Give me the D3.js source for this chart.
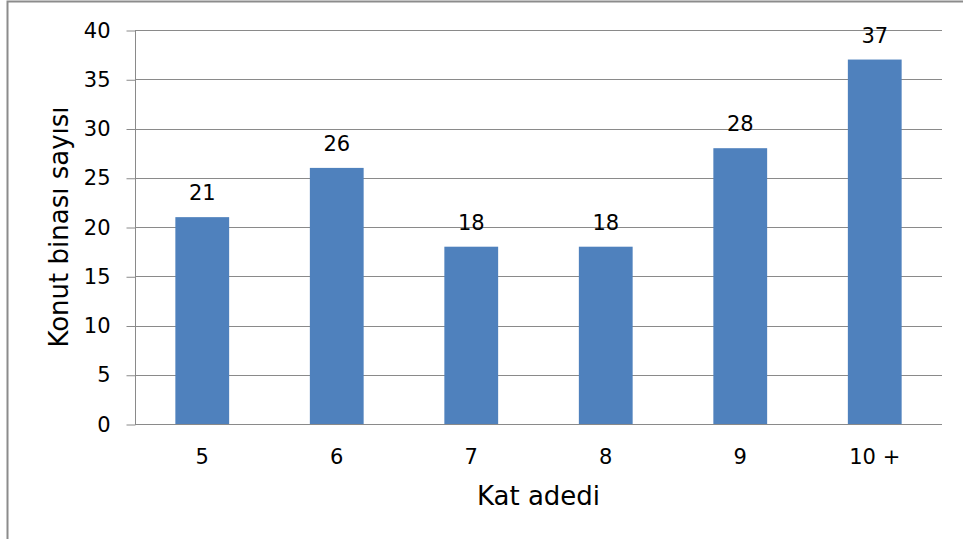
<!DOCTYPE html>
<html>
<head>
<meta charset="utf-8">
<script src="https://cdn.jsdelivr.net/npm/d3@7"></script>
<style>
  html, body { margin: 0; padding: 0; background: #fff; }
  svg { display: block; font-family: "DejaVu Sans", "Open Sans", sans-serif; }
</style>
</head>
<body>
<svg id="chart" width="963" height="539"></svg>
<script>
// Number of residential buildings by floor count
const categories = ["5", "6", "7", "8", "9", "10 +"];
const values = [21, 26, 18, 18, 28, 37];
const yTicks = [0, 5, 10, 15, 20, 25, 30, 35, 40];

const svg = d3.select("#chart");
const W = 963, H = 539;
const plot = { left: 135, right: 942, top: 30, bottom: 424 };
const tickFont = 21, titleFont = 26;

// outer frame (right and bottom edges fall outside the canvas)
svg.append("path")
  .attr("d", `M7.5,${H + 2}V1.5H${W + 2}`)
  .attr("fill", "none")
  .attr("stroke", "#8c8c8c")
  .attr("stroke-width", 2);

const x = d3.scaleBand().domain(categories).range([plot.left, plot.right]).paddingInner(0.6).paddingOuter(0.3);
const y = d3.scaleLinear().domain([0, 40]).range([plot.bottom, plot.top]);

// horizontal gridlines
svg.append("g")
  .selectAll("line")
  .data(yTicks.filter(d => d > 0))
  .join("line")
  .attr("x1", plot.left).attr("x2", plot.right)
  .attr("y1", d => Math.round(y(d)) + 0.5).attr("y2", d => Math.round(y(d)) + 0.5)
  .attr("stroke", "#8a8a8a").attr("stroke-width", 1);

// bars
svg.append("g")
  .selectAll("rect")
  .data(values)
  .join("rect")
  .attr("x", (d, i) => x(categories[i]))
  .attr("width", x.bandwidth())
  .attr("y", d => y(d))
  .attr("height", d => y(0) - y(d))
  .attr("fill", "#4f81bd");

// y axis
const yAxis = d3.axisLeft(y).tickValues(yTicks).tickSize(9).tickPadding(16).tickFormat(d3.format("d"));
const gy = svg.append("g").attr("transform", `translate(${plot.left + 0.5},0.5)`).call(yAxis);
gy.select(".domain").attr("stroke", "#8a8a8a").attr("d", `M0,${plot.top}V${plot.bottom}`);
gy.selectAll(".tick line").attr("stroke", "#8a8a8a");
gy.selectAll(".tick text").attr("font-size", tickFont).attr("fill", "#000").attr("font-family", "DejaVu Sans, sans-serif");

// x axis
const xAxis = d3.axisBottom(x).tickSize(0).tickPadding(25);
const gx = svg.append("g").attr("transform", `translate(0,${plot.bottom + 0.5})`).call(xAxis);
gx.select(".domain").attr("stroke", "#8a8a8a").attr("d", `M${plot.left},0H${plot.right}`);
gx.selectAll(".tick text").attr("font-size", tickFont).attr("fill", "#000").attr("font-family", "DejaVu Sans, sans-serif");

// value labels
svg.append("g")
  .selectAll("text")
  .data(values)
  .join("text")
  .attr("x", (d, i) => x(categories[i]) + x.bandwidth() / 2)
  .attr("y", d => y(d) - 17)
  .attr("text-anchor", "middle")
  .attr("font-size", tickFont)
  .attr("fill", "#000")
  .text(d => d);

// axis titles
svg.append("text")
  .attr("x", (plot.left + plot.right) / 2)
  .attr("y", 505)
  .attr("text-anchor", "middle")
  .attr("font-size", titleFont)
  .attr("fill", "#000")
  .text("Kat adedi");

svg.append("text")
  .attr("transform", `translate(68,${(plot.top + plot.bottom) / 2}) rotate(-90)`)
  .attr("text-anchor", "middle")
  .attr("font-size", titleFont)
  .attr("fill", "#000")
  .text("Konut binası sayısı");
</script>
</body>
</html>
